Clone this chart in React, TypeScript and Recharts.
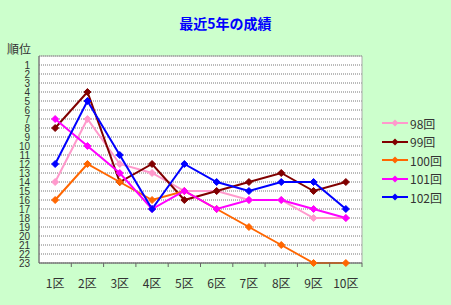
import { CartesianGrid, Line, LineChart, ReferenceArea, XAxis, YAxis } from "recharts";

const districts = ["1区", "2区", "3区", "4区", "5区", "6区", "7区", "8区", "9区", "10区"];
const rank98 = [14, 7, 12, 13, 15, 15, 16, 16, 18, 18];
const rank99 = [8, 4, 14, 12, 16, 15, 14, 13, 15, 14];
const rank100 = [16, 12, 14, 16, 15, 17, 19, 21, 23, 23];
const rank101 = [7, 10, 13, 17, 15, 17, 16, 16, 17, 18];
const rank102 = [12, 5, 11, 17, 12, 14, 15, 14, 14, 17];
const rankTicks = Array.from({ length: 23 }, (_, i) => i + 1);

const series = [
  { key: "98回", color: "#ff99cc", values: rank98 },
  { key: "99回", color: "#800000", values: rank99 },
  { key: "100回", color: "#ff6600", values: rank100 },
  { key: "101回", color: "#ff00ff", values: rank101 },
  { key: "102回", color: "#0000ff", values: rank102 },
];

const data = districts.map((name, i) => {
  const row: Record<string, string | number> = { name };
  series.forEach((s) => (row[s.key] = s.values[i]));
  return row;
});

const font = "'Noto Sans CJK JP', 'Liberation Sans', sans-serif";

function diamond(color: string) {
  return (props: any) => {
    const { cx, cy, index } = props;
    if (cx == null || cy == null) return <g key={index} />;
    const r = 3.5;
    return (
      <polygon
        key={index}
        points={`${cx},${cy - r} ${cx + r},${cy} ${cx},${cy + r} ${cx - r},${cy}`}
        fill={color}
        stroke={color}
      />
    );
  };
}

// tick mark sits on the band boundary, label in the band centre
function XTick(props: any) {
  const { x, y, payload } = props;
  return (
    <g>
      <line x1={x + 16.15} y1={y - 8} x2={x + 16.15} y2={y - 4} stroke="#666" />
      <text x={x} y={y + 17} textAnchor="middle" fontSize={12} fill="#333" fontFamily={font}>
        {payload.value}
      </text>
    </g>
  );
}

function LegendBox() {
  return (
    <div style={{ position: "absolute", left: 381, top: 114, fontFamily: font, fontSize: 12, color: "#333" }}>
      {series.map((s) => (
        <div key={s.key} style={{ display: "flex", alignItems: "center", height: 18.5 }}>
          <svg width={28} height={10}>
            <line x1={1} y1={5} x2={27} y2={5} stroke={s.color} strokeWidth={2} />
            <polygon points="14,1.5 17.5,5 14,8.5 10.5,5" fill={s.color} />
          </svg>
          <span style={{ marginLeft: 1 }}>{s.key}</span>
        </div>
      ))}
    </div>
  );
}

export default function App() {
  return (
    <div style={{ position: "absolute", left: 0, top: 0, width: 451, height: 305, background: "#ccffcc", overflow: "hidden" }}>
      <div style={{ position: "absolute", left: 0, width: 451, top: 13, textAlign: "center", color: "#0000ff", fontSize: 14, fontWeight: "bold", fontFamily: font }}>
        最近5年の成績
      </div>
      <div style={{ position: "absolute", left: 7, top: 40, fontSize: 12, color: "#333", fontFamily: font }}>順位</div>
      <LineChart width={451} height={305} data={data} margin={{ top: 56, right: 89, left: 0, bottom: 12 }}>
        <CartesianGrid vertical={false} fill="#ffffff" stroke="#777" strokeDasharray="1 1" />
        <ReferenceArea y1={0} y2={23} fill="none" fillOpacity={0} stroke="#aaa" ifOverflow="visible" />
        <XAxis
          dataKey="name"
          scale="band"
          height={30}
          tickLine={false}
          tick={<XTick />}
          axisLine={{ stroke: "#666" }}
          interval={0}
        />
        <YAxis
          type="number"
          domain={[0, 23]}
          reversed
          ticks={rankTicks}
          interval={0}
          width={39}
          tickLine={false}
          axisLine={{ stroke: "#666" }}
          tickMargin={3}
          tick={{ fontSize: 10, fill: "#333", fontFamily: "'Liberation Sans', sans-serif" }}
        />
        {series.map((s) => (
          <Line
            key={s.key}
            dataKey={s.key}
            stroke={s.color}
            strokeWidth={2}
            dot={diamond(s.color)}
            activeDot={false}
            isAnimationActive={false}
          />
        ))}
      </LineChart>
      <LegendBox />
    </div>
  );
}
